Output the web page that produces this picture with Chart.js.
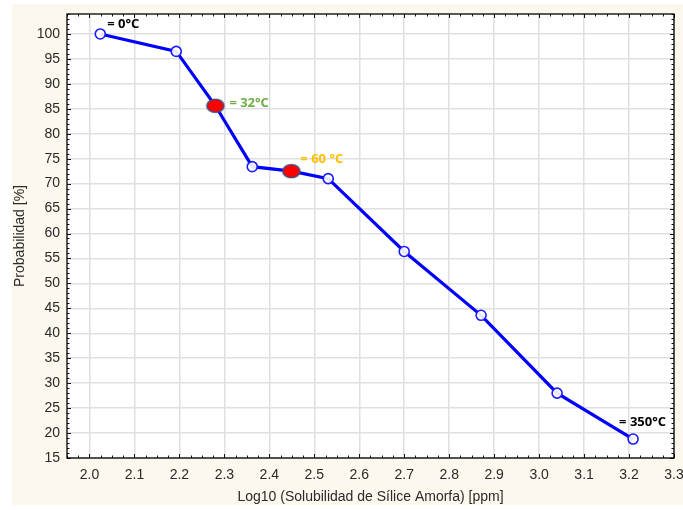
<!DOCTYPE html>
<html>
<head>
<meta charset="utf-8">
<script src="https://cdn.jsdelivr.net/npm/chart.js@4/dist/chart.umd.min.js"></script>
<style>
  html, body { margin: 0; padding: 0; background: #ffffff; }
  #wrap { position: relative; width: 683px; height: 510px; }
  canvas { display: block; }
</style>
</head>
<body>
<div id="wrap"><canvas id="c" width="683" height="510"></canvas></div>
<script>
// Log10 of amorphous silica solubility [ppm]
const logSolubility = [2.024, 2.193, 2.28, 2.362, 2.449, 2.531, 2.70, 2.871, 3.04, 3.209];
// Probability [%]
const probability = [100, 96.5, 85.6, 73.4, 72.5, 71.0, 56.4, 43.6, 28.0, 18.8];
// Temperature annotations attached to points
const tempLabels = ['= 0°C', '', '= 32°C', '', '= 60 °C', '', '', '', '', '= 350°C'];
const highlighted = [false, false, true, false, true, false, false, false, false, false];

const xTicks = [2.0, 2.1, 2.2, 2.3, 2.4, 2.5, 2.6, 2.7, 2.8, 2.9, 3.0, 3.1, 3.2, 3.3];
const yTicks = [15, 20, 25, 30, 35, 40, 45, 50, 55, 60, 65, 70, 75, 80, 85, 90, 95, 100];

const labelStyle = {
  '= 0°C':   { color: '#000000', dx: 7,   dy: -10 },
  '= 32°C':  { color: '#70ad47', dx: 14,  dy: -2 },
  '= 60 °C': { color: '#ffc000', dx: 9,   dy: -12 },
  '= 350°C': { color: '#000000', dx: -14, dy: -17 }
};

// Red ellipse marker used for the highlighted temperatures
const ellipse = document.createElement('canvas');
ellipse.width = 20; ellipse.height = 16;
(function () {
  const g = ellipse.getContext('2d');
  g.beginPath();
  g.ellipse(10, 8, 8.6, 6.6, 0, 0, Math.PI * 2);
  g.fillStyle = '#ff0000';
  g.fill();
  g.lineWidth = 1.4;
  g.strokeStyle = '#3d4f7c';
  g.stroke();
})();

const bgPlugin = {
  id: 'bg',
  beforeDraw(chart) {
    const c = chart.ctx;
    c.save();
    c.fillStyle = '#fdf8ed';
    c.fillRect(12, 4, 671, 501);
    const a = chart.chartArea;
    c.fillStyle = '#ffffff';
    c.fillRect(a.left, a.top, a.right - a.left, a.bottom - a.top);
    c.restore();
  }
};

// Frame with inward major/minor tick marks on all four sides
const framePlugin = {
  id: 'frame',
  afterDatasetsDraw(chart) {
    const c = chart.ctx, a = chart.chartArea;
    const xs = chart.scales.x, ys = chart.scales.y;
    c.save();
    c.strokeStyle = '#111111';
    c.lineWidth = 1;
    c.beginPath();
    for (let v = 1.95; v <= 3.3001; v += 0.025) {
      const px = Math.round(xs.getPixelForValue(v)) + 0.5;
      const major = Math.abs(v * 10 - Math.round(v * 10)) < 1e-6;
      const len = major ? 4 : 2.5;
      c.moveTo(px, a.bottom); c.lineTo(px, a.bottom - len);
      c.moveTo(px, a.top); c.lineTo(px, a.top + len);
    }
    for (let v = 15; v <= 104; v += 1) {
      const py = Math.round(ys.getPixelForValue(v)) + 0.5;
      const len = v % 5 === 0 ? 4 : 2.5;
      c.moveTo(a.left, py); c.lineTo(a.left + len, py);
      c.moveTo(a.right, py); c.lineTo(a.right - len, py);
    }
    c.stroke();
    c.lineWidth = 1.3;
    c.strokeStyle = '#000000';
    c.strokeRect(a.left, a.top, a.right - a.left, a.bottom - a.top);
    c.restore();
  }
};

const labelPlugin = {
  id: 'tempLabels',
  afterDatasetsDraw(chart) {
    const c = chart.ctx;
    const meta = chart.getDatasetMeta(0);
    c.save();
    c.font = 'bold 13px "Open Sans", "Liberation Sans", sans-serif';
    c.textAlign = 'left';
    c.textBaseline = 'middle';
    meta.data.forEach((pt, i) => {
      const t = tempLabels[i];
      if (!t) return;
      const s = labelStyle[t];
      c.fillStyle = s.color;
      c.fillText(t, pt.x + s.dx, pt.y + s.dy);
    });
    c.restore();
  }
};

const tickFont = { family: '"Liberation Sans", Arial, sans-serif', size: 14 };

new Chart(document.getElementById('c'), {
  type: 'line',
  data: {
    datasets: [{
      data: logSolubility.map((x, i) => ({ x, y: probability[i] })),
      borderColor: '#0000ff',
      borderWidth: 3.2,
      tension: 0,
      pointStyle: ctx => highlighted[ctx.dataIndex] ? ellipse : 'circle',
      pointRadius: 5,
      pointBorderWidth: 1.6,
      pointBorderColor: '#1a1aff',
      pointBackgroundColor: 'rgba(255,255,255,0.9)'
    }]
  },
  options: {
    responsive: false,
    animation: false,
    events: [],
    layout: { padding: { left: 0, right: 9, top: 14, bottom: 0 } },
    plugins: { legend: { display: false }, tooltip: { enabled: false } },
    scales: {
      x: {
        type: 'linear',
        min: 1.95,
        max: 3.3,
        afterBuildTicks: s => { s.ticks = xTicks.map(v => ({ value: v })); },
        afterFit: s => { s.height = 52; s.paddingLeft = 0; s.paddingRight = 0; },
        grid: { color: '#e0e0e0', lineWidth: 1.5, drawTicks: false },
        border: { display: false },
        ticks: {
          color: '#2a2a2a',
          font: tickFont,
          padding: 9,
          maxRotation: 0,
          autoSkip: false,
          callback: v => v.toFixed(1)
        },
        title: {
          display: true,
          text: 'Log10 (Solubilidad de Sílice Amorfa) [ppm]',
          color: '#2a2a2a',
          font: tickFont,
          padding: { top: 0, bottom: 4 }
        }
      },
      y: {
        type: 'linear',
        min: 15,
        max: 104,
        afterBuildTicks: s => { s.ticks = yTicks.map(v => ({ value: v })); },
        afterFit: s => { s.width = 67; s.paddingTop = 0; s.paddingBottom = 0; },
        grid: { color: '#e0e0e0', lineWidth: 1.5, drawTicks: false },
        border: { display: false },
        ticks: {
          color: '#2a2a2a',
          font: tickFont,
          padding: 7,
          autoSkip: false
        },
        title: {
          display: true,
          text: 'Probabilidad [%]',
          color: '#2a2a2a',
          font: tickFont,
          padding: { top: 12, bottom: 0 }
        }
      }
    }
  },
  plugins: [bgPlugin, framePlugin, labelPlugin]
});
</script>
</body>
</html>
